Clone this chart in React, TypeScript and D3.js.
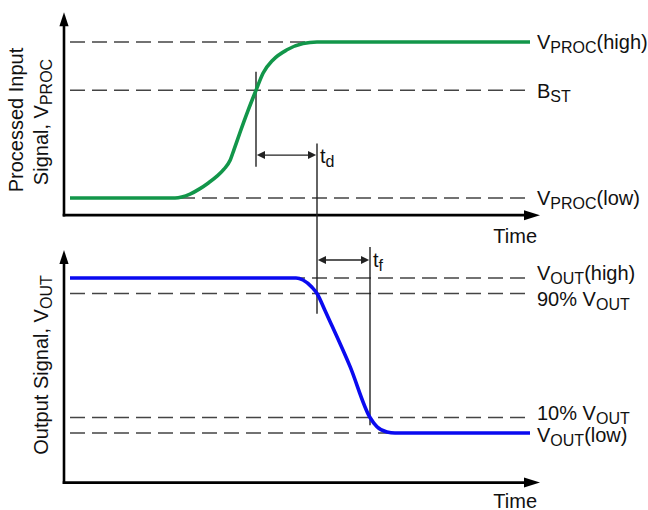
import * as d3 from 'd3';

// Time runs in arbitrary units from the axis origin (0) to the arrow tip.
const TIME_MAX = 23.8;
const TRACE_START = 0.3;
const TRACE_END = 23.3;

// Processed input, normalised: 0 = V_PROC(low), 1 = V_PROC(high)
const procTime = [0.3, 5.55, 6.3, 6.8, 7.2, 7.65, 8.0, 8.3, 8.5, 8.8, 9.2, 9.6, 9.95, 10.45, 11.15, 11.95, 12.65, 23.3];
const procValue = [0, 0, 0.025, 0.06, 0.095, 0.14, 0.185, 0.24, 0.31, 0.42, 0.56, 0.69, 0.8, 0.885, 0.95, 0.99, 1, 1];

// Output signal, normalised: 0 = V_OUT(low), 1 = V_OUT(high)
const outTime = [0.3, 11.6, 11.95, 12.4, 12.65, 13.05, 13.3, 14.3, 15.3, 15.65, 16.15, 16.55, 23.3];
const outValue = [1, 1, 0.987, 0.94, 0.9, 0.79, 0.72, 0.43, 0.1, 0.04, 0.006, 0, 0];

const procLevelValues = [1, 0.69, 0];
const procLevelLabels = [
  ['', 'V', 'PROC', '(high)'],
  ['', 'B', 'ST', ''],
  ['', 'V', 'PROC', '(low)'],
];
const outLevelValues = [1, 0.9, 0.1, 0];
const outLevelLabels = [
  ['', 'V', 'OUT', '(high)'],
  ['90% ', 'V', 'OUT', ''],
  ['10% ', 'V', 'OUT', ''],
  ['', 'V', 'OUT', '(low)'],
];

// timing marks
const BST_CROSS = 9.6;
const OUT_90_CROSS = 12.65;
const OUT_10_CROSS = 15.3;

const W = 648;
const H = 510;
const FONT = '"Liberation Sans", Arial, Helvetica, sans-serif';

const x = d3.scaleLinear().domain([0, TIME_MAX]).range([64, 540]);
const yProc = d3.scaleLinear().domain([0, 1]).range([198, 42]);
const yOut = d3.scaleLinear().domain([0, 1]).range([433, 278]);
const PROC_AXIS = [-0.11, 1.19];
const OUT_AXIS = [-0.32, 1.18];

const procLabelDy = [7, 8, 7];
const outLabelDy = [2, 12, 2, 9];

type Pt = { t: number; v: number };

function Label({ px, py, parts, anchor = 'start', rotate = false }: { px: number; py: number; parts: string[]; anchor?: string; rotate?: boolean }) {
  const [pre, main, sub, tail] = parts;
  return (
    <text
      transform={`translate(${px},${py})${rotate ? ' rotate(-90)' : ''}`}
      textAnchor={anchor}
      fontFamily={FONT}
      fontSize={20}
      fill="#111"
    >
      {pre}{main}
      {sub && <tspan fontSize={16} dy={4}>{sub}</tspan>}
      {tail && <tspan dy={sub ? -4 : 0}>{tail}</tspan>}
    </text>
  );
}

function AxisArrows({ yScale, range }: { yScale: d3.ScaleLinear<number, number>; range: number[] }) {
  const x0 = x(0);
  const yBase = yScale(range[0]);
  const yTip = yScale(range[1]);
  const xTip = x(TIME_MAX);
  return (
    <g>
      <line x1={x0} x2={x0} y1={yBase + 1.3} y2={yTip + 12} stroke="#000" strokeWidth={2.6} />
      <path d={`M${x0},${yTip} L${x0 - 4.6},${yTip + 14} L${x0 + 4.6},${yTip + 14} Z`} fill="#000" />
      <line x1={x0 - 1.3} x2={xTip - 14} y1={yBase} y2={yBase} stroke="#000" strokeWidth={2.6} />
      <path d={`M${xTip},${yBase} L${xTip - 16},${yBase - 5} L${xTip - 16},${yBase + 5} Z`} fill="#000" />
    </g>
  );
}

function DimArrow({ t0, t1, y }: { t0: number; t1: number; y: number }) {
  const a = x(t0);
  const b = x(t1);
  return (
    <g fill="#222">
      <line x1={a + 4} x2={b - 4} y1={y} y2={y} stroke="#222" strokeWidth={1.4} />
      <path d={`M${a + 0.8},${y} L${a + 9},${y - 4} L${a + 9},${y + 4} Z`} />
      <path d={`M${b - 0.8},${y} L${b - 9},${y - 4} L${b - 9},${y + 4} Z`} />
    </g>
  );
}

export default function App() {
  const procPts: Pt[] = procTime.map((t, i) => ({ t, v: procValue[i] }));
  const outPts: Pt[] = outTime.map((t, i) => ({ t, v: outValue[i] }));
  const procLine = d3.line<Pt>().x((d) => x(d.t)).y((d) => yProc(d.v)).curve(d3.curveMonotoneX);
  const outLine = d3.line<Pt>().x((d) => x(d.t)).y((d) => yOut(d.v)).curve(d3.curveMonotoneX);
  const dash = '15 7';

  return (
    <svg width={W} height={H} style={{ position: 'absolute', left: 0, top: 0, background: '#fff' }}>
      {/* dashed reference levels */}
      {procLevelValues.map((v) => (
        <line key={`p${v}`} x1={x(TRACE_START)} x2={x(TRACE_END)} y1={yProc(v)} y2={yProc(v)} stroke="#444" strokeWidth={1.5} strokeDasharray={dash} />
      ))}
      {outLevelValues.map((v) => (
        <line key={`o${v}`} x1={x(TRACE_START)} x2={x(TRACE_END)} y1={yOut(v)} y2={yOut(v)} stroke="#444" strokeWidth={1.5} strokeDasharray={dash} />
      ))}

      <AxisArrows yScale={yProc} range={PROC_AXIS} />
      <AxisArrows yScale={yOut} range={OUT_AXIS} />

      {/* timing marks */}
      <g stroke="#222" strokeWidth={1.4}>
        <line x1={x(BST_CROSS)} x2={x(BST_CROSS)} y1={yProc(0.81)} y2={yProc(0.2)} />
        <line x1={x(OUT_90_CROSS)} x2={x(OUT_90_CROSS)} y1={yProc(0.35)} y2={yOut(0.77)} />
        <line x1={x(OUT_10_CROSS)} x2={x(OUT_10_CROSS)} y1={yOut(1.2)} y2={yOut(0.05)} />
      </g>
      <DimArrow t0={BST_CROSS} t1={OUT_90_CROSS} y={yProc(0.275)} />
      <DimArrow t0={OUT_90_CROSS} t1={OUT_10_CROSS} y={yOut(1.116)} />

      <path d={procLine(procPts) ?? undefined} fill="none" stroke="#12964a" strokeWidth={3.6} />
      <path d={outLine(outPts) ?? undefined} fill="none" stroke="#0a0af0" strokeWidth={3.6} />

      {/* level labels */}
      {procLevelValues.map((v, i) => (
        <Label key={`pl${i}`} px={x(TRACE_END) + 7} py={yProc(v) + procLabelDy[i]} parts={procLevelLabels[i]} />
      ))}
      {outLevelValues.map((v, i) => (
        <Label key={`ol${i}`} px={x(TRACE_END) + 7} py={yOut(v) + outLabelDy[i]} parts={outLevelLabels[i]} />
      ))}

      <Label px={x(OUT_90_CROSS) + 3} py={yProc(0.275) + 8} parts={['', 't', 'd', '']} />
      <Label px={x(OUT_10_CROSS) + 3} py={yOut(1.116) + 7} parts={['', 't', 'f', '']} />

      {/* axis titles */}
      <Label px={x(TIME_MAX) - 3} py={yProc(PROC_AXIS[0]) + 28} parts={['Time', '', '', '']} anchor="end" />
      <Label px={x(TIME_MAX) - 3} py={yOut(OUT_AXIS[0]) + 25} parts={['Time', '', '', '']} anchor="end" />
      <Label px={23} py={120} parts={['Processed Input', '', '', '']} anchor="middle" rotate />
      <Label px={48} py={122} parts={['Signal, ', 'V', 'PROC', '']} anchor="middle" rotate />
      <Label px={48} py={365} parts={['Output Signal, ', 'V', 'OUT', '']} anchor="middle" rotate />
    </svg>
  );
}
